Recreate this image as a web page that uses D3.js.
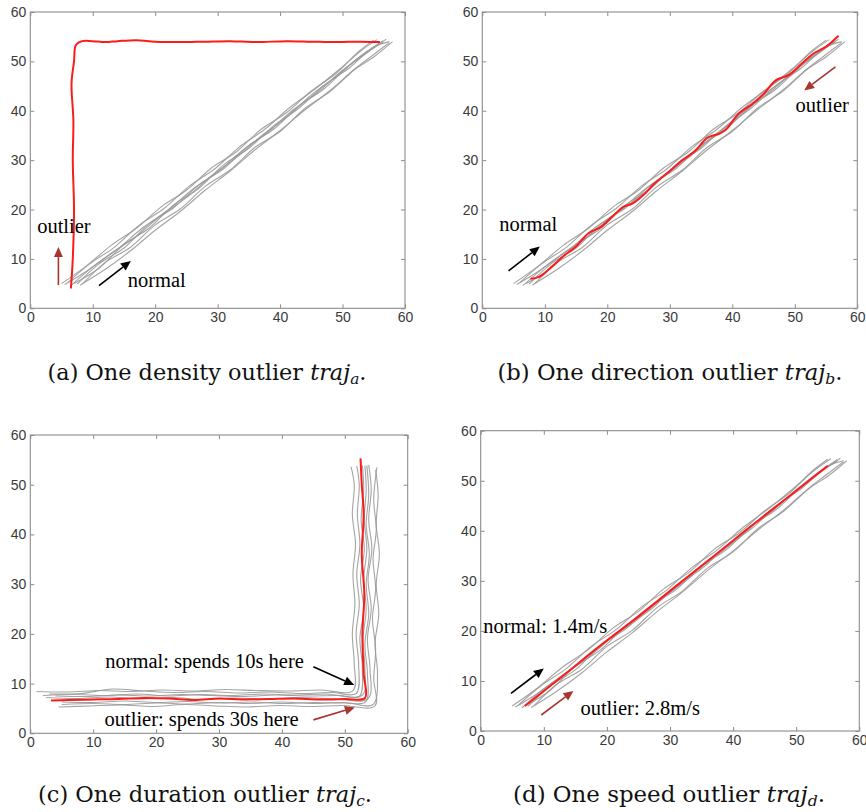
<!DOCTYPE html>
<html><head><meta charset="utf-8">
<script src="https://cdn.jsdelivr.net/npm/d3@7"></script>
<style>body{margin:0;background:#fff}svg{display:block}</style>
</head><body>
<svg id="c" width="866" height="812"></svg>
<script>
// ---------------- data ----------------
const xTicks = [0,10,20,30,40,50,60];
const yTicks = [0,10,20,30,40,50,60];

// normal (diagonal) trajectories shared by panels a, b, d
const diagNormals = [
 [[5.5,4.8],[9,7.5],[13,11.2],[17,14.6],[21,18.9],[25,22.4],[29,26.8],[33,30.5],[37,34.9],[41,38.6],[45,43.2],[49,47.0],[53,51.2],[56.5,54.2]],
 [[6.5,4.6],[10,8.4],[14,12.0],[18,16.3],[22,19.8],[26,24.1],[30,27.6],[34,32.0],[38,35.6],[42,40.1],[46,43.7],[50,48.2],[54,51.8],[57,54.5]],
 [[7,5.0],[11,8.1],[15,12.9],[19,16.2],[23,21.0],[27,24.3],[31,29.1],[35,32.4],[39,37.0],[43,40.5],[47,45.1],[51,48.6],[55,52.9],[57.5,54]],
 [[8,4.7],[12,7.9],[16,11.6],[20,15.8],[24,19.6],[28,23.9],[32,27.8],[36,32.1],[40,36.0],[44,40.2],[48,44.1],[52,48.5],[55,51.4],[57.5,53.8]],
 [[6,5.2],[9.5,9.0],[13.5,12.4],[17.5,16.9],[21.5,20.3],[25.5,24.8],[29.5,28.2],[33.5,32.7],[37.5,36.2],[41.5,40.6],[45.5,44.3],[49.5,48.4],[53,52.2],[55.5,54.4]],
 [[7.5,4.9],[11,9.0],[15,12.2],[19,17.1],[23,20.4],[27,25.0],[31,28.3],[35,33.0],[39,36.3],[43,41.0],[47,44.4],[51,49.1],[54,52.0],[56.5,53.9]],
 [[5,5.0],[9,8.6],[13,12.8],[17,16.2],[21,20.6],[25,23.9],[29,28.4],[33,31.7],[37,36.3],[41,39.6],[45,44.0],[49,47.6],[52.5,51.9],[55,54.3]],
 [[8.5,5.1],[12,9.3],[16,12.3],[20,16.9],[24,20.1],[28,24.7],[32,28.0],[36,32.6],[40,35.8],[44,40.5],[48,43.9],[52,48.4],[55,50.9],[58,54]]
];

// L-shaped normal trajectories for panel c
const lNormals = [
 [[1,8.4],[6,8.3],[11,8.6],[16,8.4],[21,8.7],[26,8.5],[31,8.8],[36,8.6],[41,8.5],[46,8.7],[51.3,8.6],[51.5,14],[51.2,20],[51.6,26],[51.3,32],[51.7,38],[51.2,44],[51.5,50],[51.0,53.6]],
 [[3,7.9],[8,8.0],[13,8.9],[18,8.5],[23,8.2],[28,8.4],[33,8.1],[38,8.3],[43,8.0],[48,8.2],[51.8,8.0],[52.2,14],[51.8,20],[52.3,26],[51.9,32],[52.4,38],[52.0,44],[52.3,50],[51.9,53.8]],
 [[4,7.5],[9,7.4],[14,7.7],[19,7.5],[24,7.8],[29,7.6],[34,7.4],[39,7.7],[44,7.5],[49,7.6],[52.3,7.4],[52.8,13],[52.4,19],[53.0,25],[52.5,31],[53.1,37],[52.6,43],[53.0,49],[52.8,53.9]],
 [[5,6.3],[10,6.2],[15,6.5],[20,6.2],[25,6.4],[30,6.1],[35,6.3],[40,6.0],[45,6.2],[50,6.1],[53.3,6.3],[53.6,12],[53.2,18],[53.8,24],[53.4,30],[53.9,36],[53.4,42],[53.8,48],[53.5,53.9]],
 [[2.5,7.2],[7.5,7.0],[12.5,7.3],[17.5,6.9],[22.5,7.2],[27.5,6.8],[32.5,7.1],[37.5,6.9],[42.5,7.2],[47.5,7.0],[53.7,7.0],[54.0,13],[53.6,19],[54.2,25],[53.7,31],[54.3,37],[53.8,43],[54.2,49],[53.8,54.0]],
 [[4.5,5.3],[9.5,5.5],[14.5,5.7],[19.5,5.4],[24.5,5.8],[29.5,5.5],[34.5,5.3],[39.5,5.6],[44.5,5.4],[49.5,5.6],[54.8,5.5],[54.6,11],[54.9,17],[54.4,23],[54.9,29],[54.5,35],[55.0,41],[54.6,47],[55.1,53.5]],
 [[2,7.6],[7,7.8],[12,7.6],[17,7.9],[22,7.5],[27,7.8],[32,7.6],[37,7.9],[42,7.7],[47,7.9],[52.8,7.7],[53.2,13],[52.9,19],[53.4,25],[53.0,31],[53.5,37],[53.1,43],[53.4,49],[53.2,53.8]],
 [[5,5.8],[10,6.0],[15,5.8],[20,6.1],[25,5.9],[30,6.2],[35,6.0],[40,6.3],[45,6.0],[50,6.2],[54.5,5.8],[55.2,12],[54.8,18],[55.4,24],[55.0,30],[55.5,36],[55.0,42],[55.3,48],[54.9,53.0]]
];

const outlierA = [[6.5,4],[6.8,10],[7.0,20],[6.8,30],[6.9,38],[6.6,45.5],[7.0,50],[7.3,53.3],[8.3,54.1],[10,54.1],[12,53.9],[14,54.1],[17,54.3],[20,54.0],[24,53.9],[28,54.0],[32,54.1],[36,53.9],[41,54.1],[45,54.0],[49,53.9],[53,54.0],[56,53.9]];
const outlierB = [[7.7,6.0],[9,6.3],[11,8.3],[13,10.6],[15,12.5],[17,15.2],[19,16.5],[21,18.8],[22.5,20.5],[24,21.2],[26,23.2],[27.5,25.2],[30,27.8],[32,30],[34,31.8],[36,34.5],[38,35.4],[39,36.2],[41,39.4],[43,41.2],[45,43.4],[47,46.2],[49,47.2],[51,49.4],[53,51.6],[55,53],[57,55.2]];
const outlierC = [[3.3,6.6],[6,6.7],[10,6.8],[14,6.9],[18,7.1],[22,7.0],[26,6.7],[30,7.0],[34,6.8],[38,6.9],[42,7.0],[46,6.8],[50,6.9],[53.2,7.1],[53.0,12],[52.8,20],[53.1,28],[52.7,36],[53.0,44],[52.7,50],[52.5,55.3]];
const outlierD = [[7,5],[13,11],[19,17.1],[25,22.9],[31,29],[37,35],[43,41.1],[49,47],[55,53]];

// annotations: [x, y] in data units
const labelsA = [{t:"outlier",x:1.1,y:15.2},{t:"normal",x:15.6,y:4.3}];
const arrowsA = [{from:[4.5,4.7],to:[4.5,12.4],c:"red"},{from:[11.0,4.6],to:[16.1,9.6],c:"black"}];
const labelsB = [{t:"normal",x:2.7,y:15.6},{t:"outlier",x:50.1,y:39.8}];
const arrowsB = [{from:[4.2,7.6],to:[9.2,12.5],c:"black"},{from:[56.5,48.9],to:[51.5,44.1],c:"red"}];
const labelsC = [{t:"normal: spends 10s here",x:11.9,y:13.1},{t:"outlier: spends 30s here",x:11.8,y:1.5}];
const arrowsC = [{from:[45.0,13.4],to:[51.5,9.7],c:"black"},{from:[45.0,2.7],to:[51.6,5.2],c:"red"}];
const labelsD = [{t:"normal: 1.4m/s",x:0.4,y:19.6},{t:"outlier: 2.8m/s",x:15.8,y:3.2}];
const arrowsD = [{from:[4.8,7.5],to:[10.0,12.5],c:"black"},{from:[9.6,3.2],to:[14.7,8.0],c:"red"}];

const captionPrefix = ["(a) One density outlier ","(b) One direction outlier ","(c) One duration outlier ","(d) One speed outlier "];
const captionSub = ["a","b","c","d"];

// ---------------- layout ----------------
const panels = [
 {box:[30.3,405,12,308.3], normals:diagNormals, outlier:outlierA, labels:labelsA, arrows:arrowsA, cap:[207,380,319]},
 {box:[482.3,857.3,12,308.3], normals:diagNormals, outlier:outlierB, labels:labelsB, arrows:arrowsB, cap:[670,380,345]},
 {box:[30.3,407.7,435,733.3], normals:lNormals, outlier:outlierC, labels:labelsC, arrows:arrowsC, cap:[205,802,334]},
 {box:[480.7,859.3,430.7,731], normals:diagNormals, outlier:outlierD, labels:labelsD, arrows:arrowsD, cap:[669,802,312]}
];
const COL = {frame:"#8c8c8c", tick:"#3a3a3a", gray:"#9a9a9a", red:"#ff1a1a", darkred:"#a8352f"};

const svg = d3.select("#c");
svg.append("rect").attr("width",866).attr("height",812).attr("fill","#fff");

panels.forEach((p,i)=>{
  const [x0,x1,y0,y1] = p.box;
  const x = d3.scaleLinear().domain([0,60]).range([x0,x1]);
  const y = d3.scaleLinear().domain([0,60]).range([y1,y0]);
  const g = svg.append("g");

  const styleAxis = (sel, labels)=>{
    sel.select(".domain").remove();
    sel.selectAll(".tick line").attr("stroke",COL.frame).attr("stroke-width",1);
    sel.selectAll(".tick text").attr("fill",COL.tick)
      .attr("font-family","'Liberation Sans', Arial, sans-serif").attr("font-size","14px");
    if(!labels) sel.selectAll(".tick text").remove();
  };
  g.append("g").attr("transform",`translate(0,${y1})`)
    .call(d3.axisBottom(x).tickValues(xTicks).tickSizeInner(-4).tickSizeOuter(0).tickPadding(4))
    .call(s=>styleAxis(s,true));
  g.append("g").attr("transform",`translate(0,${y0})`)
    .call(d3.axisTop(x).tickValues(xTicks).tickSizeInner(-4).tickSizeOuter(0))
    .call(s=>styleAxis(s,false));
  g.append("g").attr("transform",`translate(${x0},0)`)
    .call(d3.axisLeft(y).tickValues(yTicks).tickSizeInner(-4).tickSizeOuter(0).tickPadding(4))
    .call(s=>styleAxis(s,true));
  g.append("g").attr("transform",`translate(${x1},0)`)
    .call(d3.axisRight(y).tickValues(yTicks).tickSizeInner(-4).tickSizeOuter(0))
    .call(s=>styleAxis(s,false));
  g.append("rect").attr("x",x0).attr("y",y0).attr("width",x1-x0).attr("height",y1-y0)
    .attr("fill","none").attr("stroke",COL.frame).attr("stroke-width",1.1);

  const line = d3.line().x(d=>x(d[0])).y(d=>y(d[1])).curve(d3.curveCatmullRom.alpha(0.5));
  g.append("g").selectAll("path").data(p.normals).join("path")
    .attr("d",line).attr("fill","none").attr("stroke",COL.gray).attr("stroke-width",1.1).attr("stroke-opacity",0.9);
  g.append("path").datum(p.outlier).attr("d",line).attr("fill","none")
    .attr("stroke",COL.red).attr("stroke-width",2).attr("stroke-linejoin","round");

  // arrows
  p.arrows.forEach(a=>{
    const c = a.c==="red"?COL.darkred:"#000";
    const sx=x(a.from[0]), sy=y(a.from[1]), tx=x(a.to[0]), ty=y(a.to[1]);
    const ang=Math.atan2(ty-sy,tx-sx), L=10, W=4.5;
    const bx=tx-L*Math.cos(ang), by=ty-L*Math.sin(ang);
    g.append("line").attr("x1",sx).attr("y1",sy).attr("x2",bx).attr("y2",by)
      .attr("stroke",c).attr("stroke-width",1.6);
    g.append("path").attr("d",`M${tx},${ty}L${bx+W*Math.sin(ang)},${by-W*Math.cos(ang)}L${bx-W*Math.sin(ang)},${by+W*Math.cos(ang)}Z`)
      .attr("fill",c);
  });
  // labels
  g.selectAll("text.ann").data(p.labels).join("text").attr("class","ann")
    .attr("x",d=>x(d.x)).attr("y",d=>y(d.y)).text(d=>d.t)
    .attr("font-family","'Liberation Serif','Times New Roman',serif").attr("font-size","20.5px").attr("fill","#000");

  // caption (font size fitted to target width)
  const t = svg.append("text").attr("x",p.cap[0]).attr("y",p.cap[1]).attr("text-anchor","middle")
    .attr("font-family","'DejaVu Serif','Liberation Serif',serif").attr("font-size","19px").attr("fill","#111");
  t.append("tspan").text(captionPrefix[i]);
  t.append("tspan").attr("font-style","italic").text("traj");
  t.append("tspan").attr("font-style","italic").attr("font-size","13px").attr("dy",4).text(captionSub[i]);
  t.append("tspan").attr("dy",-4).text(".");
  const w = t.node().getComputedTextLength();
  if (w > 0) {
    const k = p.cap[2] / w;
    t.attr("font-size", (19*k).toFixed(2)+"px");
    t.selectAll("tspan").filter((d,j)=>j===2).attr("font-size",(13*k).toFixed(2)+"px");
  }
});
</script>
</body></html>
